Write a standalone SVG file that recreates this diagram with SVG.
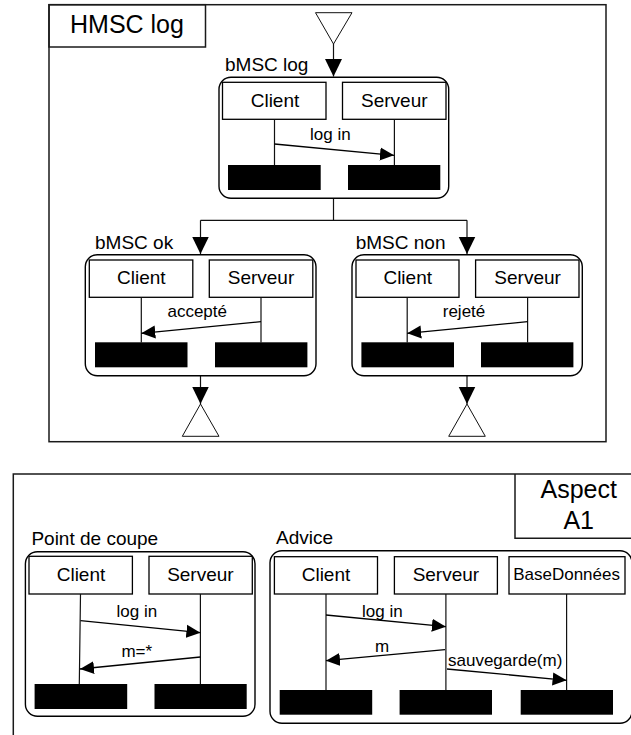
<svg xmlns="http://www.w3.org/2000/svg" width="631" height="735" viewBox="0 0 631 735">
<style>
text{font-family:"Liberation Sans",Arial,sans-serif;font-size:19px;fill:#000}
.c{text-anchor:middle}
.s{font-size:17px}
.t{font-size:25px}
.b{fill:#fff;stroke:#000;stroke-width:1.3}
.f{fill:none;stroke:#1a1a1a;stroke-width:1.5}
.r{fill:#fff;stroke:#000;stroke-width:1.4}
.k{fill:#000;stroke:none}
.l{fill:none;stroke:#111;stroke-width:1.2}
.m{fill:none;stroke:#000;stroke-width:1.3;marker-end:url(#a)}
.d{fill:none;stroke:#111;stroke-width:1.2;marker-end:url(#h)}
.o{fill:#fff;stroke:#111;stroke-width:1}
</style>
<defs>
<marker id="a" markerUnits="userSpaceOnUse" markerWidth="14" markerHeight="14" refX="14" refY="7" orient="auto"><path d="M0 0.5L14 7L0 13.5z" fill="#000"/></marker>
<marker id="h" markerUnits="userSpaceOnUse" markerWidth="18" markerHeight="18" refX="17.5" refY="9" orient="auto"><path d="M0 0.5L17.5 9L0 17.5z" fill="#000"/></marker>
<g id="actors"></g>
</defs>
<g id="hmsc-frame">
<rect class="f" x="49" y="4.7" width="557" height="437"/>
<rect class="f" x="49" y="4.7" width="156.5" height="42.3"/>
<text class="t" x="70" y="33">HMSC log</text>
</g>
<g id="start"><path class="o" d="M315.5 12.7H352L333.5 44z"/></g>
<g id="end-ok"><path class="o" d="M200.5 404L219 436.3H182.3z"/></g>
<g id="end-non"><path class="o" d="M467 404L485.3 436.3H448.7z"/></g>
<g id="connectors">
<path class="d" d="M333.5 44V76.5"/>
<path class="l" d="M333.5 198.3V220.3"/>
<path class="l" d="M200.5 220.3H467"/>
<path class="d" d="M200.5 220.3V254"/>
<path class="d" d="M467 220.3V254"/>
<path class="d" d="M200.5 375.7V404"/>
<path class="d" d="M467 375.7V404"/>
</g>
<g id="bmsc-log">
<text x="225" y="71">bMSC log</text>
<rect class="r" x="219" y="77.3" width="229.7" height="121" rx="12"/>
<rect class="b" x="222.5" y="82.3" width="103.5" height="37"/>
<rect class="b" x="342.5" y="82.3" width="103.5" height="37"/>
<text class="c" x="275" y="106.7">Client</text>
<text class="c" x="394.3" y="106.7">Serveur</text>
<path class="l" d="M274.5 119.3V165M394.4 119.3V165"/>
<rect class="k" x="228" y="165" width="92.7" height="25"/>
<rect class="k" x="348" y="165" width="92.3" height="25"/>
<text class="c s" x="330.4" y="140">log in</text>
<path class="m" d="M274.5 144L394 155.3"/>
</g>
<g id="bmsc-ok">
<text x="95" y="249">bMSC ok</text>
<rect class="r" x="85.3" y="254.7" width="230.7" height="121" rx="12"/>
<rect class="b" x="89.3" y="260" width="103.5" height="37.3"/>
<rect class="b" x="209.3" y="260" width="103.5" height="37.3"/>
<text class="c" x="141.3" y="284">Client</text>
<text class="c" x="261" y="284">Serveur</text>
<path class="l" d="M141.3 297.3V342.5M261 297.3V342.5"/>
<rect class="k" x="95" y="342.3" width="92.5" height="25"/>
<rect class="k" x="215" y="342.3" width="92.4" height="25"/>
<text class="c s" x="197.2" y="317.3">accepté</text>
<path class="m" d="M261 321.7L141.3 333.3"/>
</g>
<g id="bmsc-non">
<text x="355.7" y="249">bMSC non</text>
<rect class="r" x="352" y="254.7" width="230.3" height="121" rx="12"/>
<rect class="b" x="356" y="260" width="103" height="37.3"/>
<rect class="b" x="475.6" y="260" width="103.4" height="37.3"/>
<text class="c" x="407.7" y="284">Client</text>
<text class="c" x="527.6" y="284">Serveur</text>
<path class="l" d="M407.2 297.3V342.5M527.6 297.3V342.5"/>
<rect class="k" x="361.4" y="342.3" width="92.6" height="25"/>
<rect class="k" x="481" y="342.3" width="92.4" height="25"/>
<text class="c s" x="464" y="317.3">rejeté</text>
<path class="m" d="M527.6 321.7L407.2 333.3"/>
</g>
<g id="aspect-frame">
<path class="f" d="M633 474H13.3V735"/>
<path class="f" d="M633 538.3H515V474"/>
<text class="c t" x="578.7" y="498.3">Aspect</text>
<text class="c t" x="578.7" y="529.3">A1</text>
</g>
<g id="point-de-coupe">
<text x="31.4" y="545">Point de coupe</text>
<rect class="r" x="25.4" y="551.7" width="229.6" height="164.6" rx="12"/>
<rect class="b" x="29" y="556.3" width="103.4" height="37.7"/>
<rect class="b" x="149" y="556.3" width="103.3" height="37.7"/>
<text class="c" x="81" y="580.7">Client</text>
<text class="c" x="200.4" y="580.7">Serveur</text>
<path class="l" d="M80.5 594L79.3 684M200.4 594V684"/>
<rect class="k" x="34.6" y="684" width="92.6" height="25"/>
<rect class="k" x="154.5" y="684" width="92.2" height="25"/>
<text class="c s" x="136.8" y="616.7">log in</text>
<path class="m" d="M80.5 620.7L200.4 632.7"/>
<text class="c s" x="136.8" y="657.3">m=*</text>
<path class="m" d="M200.4 657L80 669"/>
</g>
<g id="advice">
<text x="276" y="544">Advice</text>
<rect class="r" x="270" y="550.7" width="362" height="172.6" rx="12"/>
<rect class="b" x="274.4" y="556.7" width="103.1" height="37.3"/>
<rect class="b" x="394.4" y="556.7" width="103" height="37.3"/>
<rect class="b" x="509" y="556.7" width="116" height="37.3"/>
<text class="c" x="326" y="580.5">Client</text>
<text class="c" x="445.9" y="580.5">Serveur</text>
<text class="c s" x="566.6" y="580">BaseDonnées</text>
<path class="l" d="M326 594V690M445.9 594V690M566.6 594V690"/>
<rect class="k" x="279.7" y="690" width="92.5" height="24.7"/>
<rect class="k" x="399.6" y="690" width="92.4" height="24.7"/>
<rect class="k" x="520.7" y="690" width="92.3" height="24.7"/>
<text class="c s" x="382.3" y="616.7">log in</text>
<path class="m" d="M326 615L445.9 626.7"/>
<text class="c s" x="382" y="651.7">m</text>
<path class="m" d="M445 649.7L326 660.7"/>
<text class="s" x="448" y="665.7">sauvegarde(m)</text>
<path class="m" d="M447 669L566.6 680.3"/>
</g>
</svg>
